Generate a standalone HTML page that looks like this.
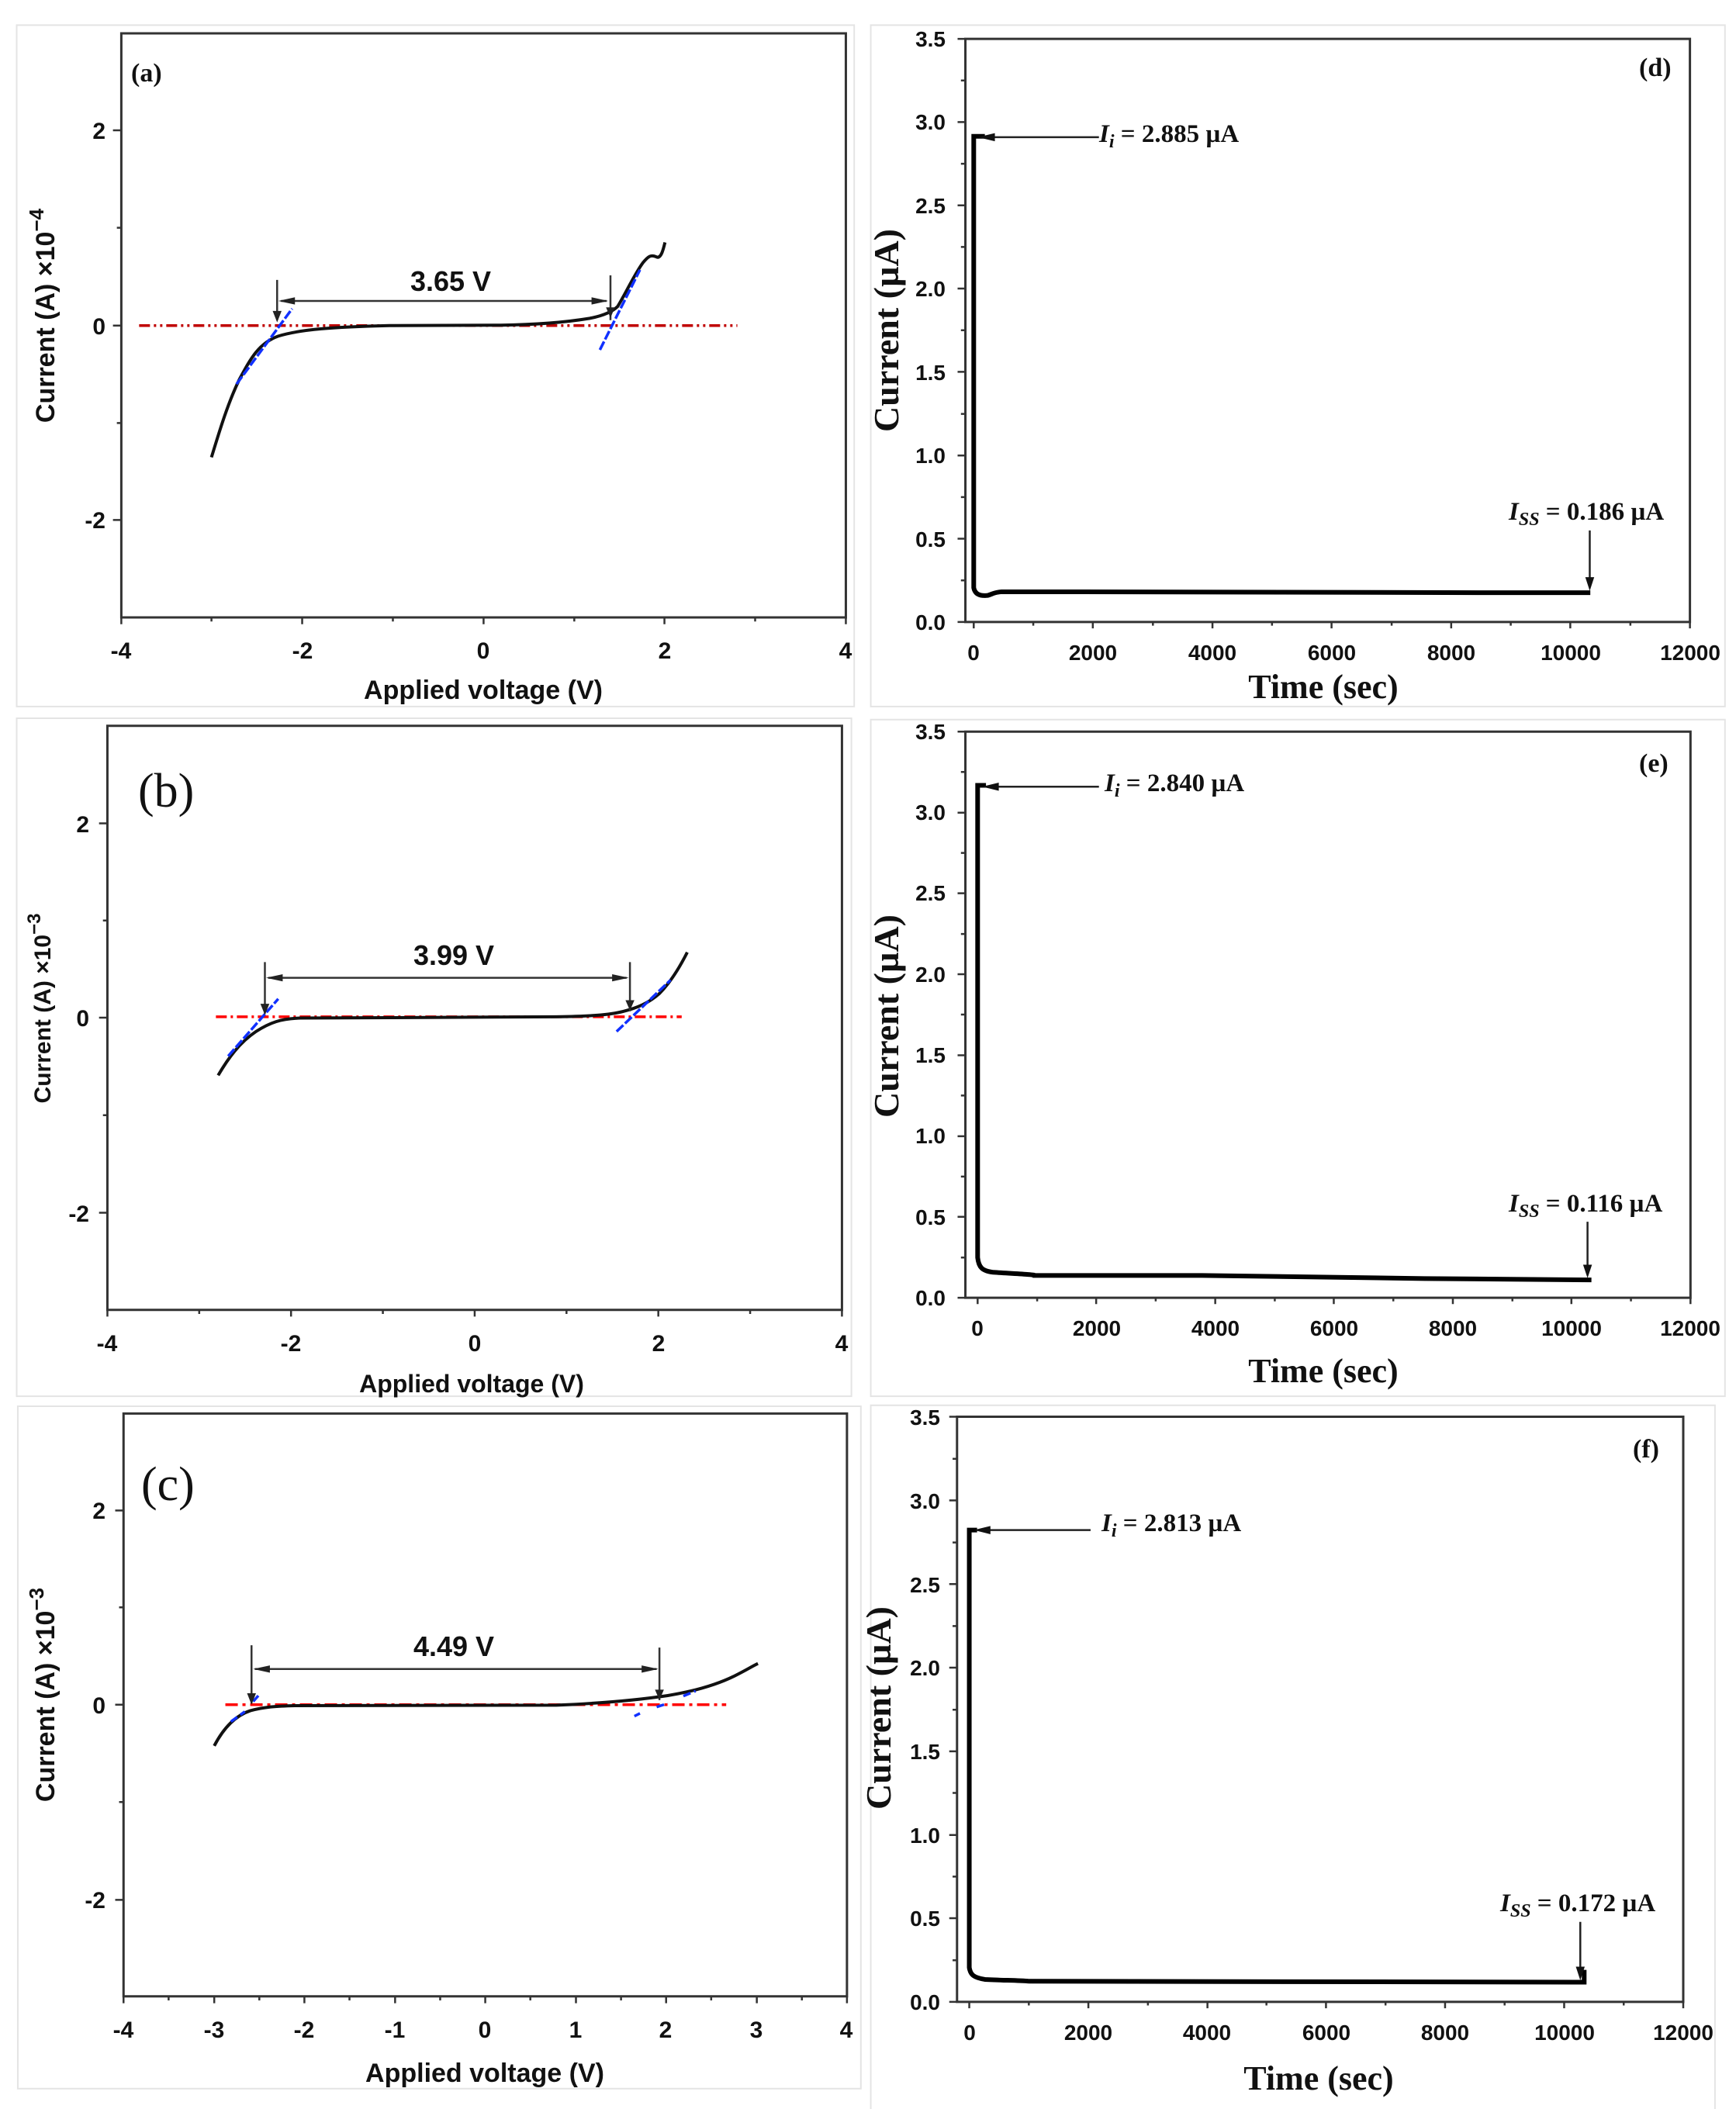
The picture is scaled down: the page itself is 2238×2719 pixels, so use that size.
<!DOCTYPE html>
<html><head><meta charset="utf-8"><style>
html,body{margin:0;padding:0;background:#fff}
svg{display:block}
.t{font-family:"Liberation Sans",Arial,sans-serif;font-weight:bold;fill:#111}
.s{font-family:"Liberation Serif","Times New Roman",serif;font-weight:bold;fill:#111}
.ns{vector-effect:non-scaling-stroke;fill:none}
</style></head><body>
<svg width="2238" height="2719" viewBox="0 0 2238 2719" xmlns="http://www.w3.org/2000/svg">
<rect width="2238" height="2719" fill="#fff"/>

<!-- ===== Panel (a) ===== -->
<g transform="matrix(0.7174,0,0,0.5896,0,0)">
<rect x="30" y="55" width="1505" height="1490" class="ns" stroke="#e4e4e4" stroke-width="2"/>
<rect x="218" y="73" width="1302" height="1277" class="ns" stroke="#333" stroke-width="3"/>
<path class="ns" stroke="#333" stroke-width="2.5" d="M218 285h-15M218 712h-15M218 1137h-15M218 498h-8M218 925h-8
M218 1350v15M543 1350v15M869 1350v15M1194 1350v15M1520 1350v15M380 1350v9M706 1350v9M1032 1350v9M1357 1350v9"/>
<path class="ns" stroke="#c00000" stroke-width="3.5" stroke-dasharray="14 5 3 5 3 5" d="M250 712H1325"/>
<path class="ns" stroke="#111" stroke-width="4" d="M380 1000C395 940 410 880 430 830C450 785 465 750 500 735C540 720 600 715 700 712L900 711C960 710 1010 706 1060 696C1085 690 1100 682 1110 670C1125 640 1140 600 1155 575C1165 560 1170 556 1180 562C1188 566 1192 545 1195 530"/>
<path class="ns" stroke="#1030ff" stroke-width="3.5" stroke-dasharray="12 3" d="M425 840L525 675M1078 765L1150 590"/>
<path class="ns" stroke="#333" stroke-width="2.5" d="M498 612V700M1097 602V700M505 658H1090"/>
<polygon points="500,658 530,650 530,666" fill="#222"/>
<polygon points="1093,658 1063,650 1063,666" fill="#222"/>
<polygon points="498,705 490,680 506,680" fill="#222"/>
<polygon points="1097,695 1089,672 1105,672" fill="#222"/>
</g>
<text class="s" x="169" y="105" font-size="34">(a)</text>
<text class="t" x="581" y="375" font-size="36" text-anchor="middle">3.65 V</text>
<g class="t" font-size="30" text-anchor="middle">
<text x="156" y="849">-4</text><text x="390" y="849">-2</text><text x="623" y="849">0</text><text x="857" y="849">2</text><text x="1090" y="849">4</text></g>
<g class="t" font-size="30" text-anchor="end">
<text x="136" y="179">2</text><text x="136" y="431">0</text><text x="136" y="681">-2</text></g>
<text class="t" x="623" y="901" font-size="34" text-anchor="middle">Applied voltage (V)</text>
<text class="t" font-size="34" text-anchor="middle" transform="translate(70,407) rotate(-90)">Current (A) ×10<tspan dy="-14" font-size="26">−4</tspan></text>

<!-- ===== Panel (d) ===== -->
<g transform="translate(1119,0) scale(0.7174,0.5896)">
<rect x="5" y="55" width="1535" height="1490" class="ns" stroke="#e4e4e4" stroke-width="2"/>
<rect x="175" y="85" width="1302" height="1275" class="ns" stroke="#333" stroke-width="3"/>
<path class="ns" stroke="#333" stroke-width="2.5" d="M175 1360h-14M175 1178h-14M175 996h-14M175 813h-14M175 631h-14M175 449h-14M175 267h-14M175 85h-14
M175 1269h-8M175 1087h-8M175 905h-8M175 722h-8M175 540h-8M175 358h-8M175 176h-8
M190 1360v14M404 1360v14M619 1360v14M833 1360v14M1048 1360v14M1262 1360v14M1477 1360v14
M297 1360v8M512 1360v8M726 1360v8M941 1360v8M1155 1360v8M1370 1360v8"/>
<path class="ns" stroke="#000" stroke-width="6" d="M210 298H190V1285C192 1298 200 1304 215 1302C222 1300 226 1295 240 1294L380 1294L1130 1296L1298 1296"/>
<path class="ns" stroke="#222" stroke-width="2.5" d="M415 300H215M1297 1160V1270"/>
<polygon points="198,300 228,291 228,309" fill="#111"/>
<polygon points="1297,1292 1289,1262 1305,1262" fill="#111"/>
</g>
<text class="s" x="2113" y="98" font-size="34">(d)</text>
<text class="s" x="1417" y="183" font-size="33"><tspan font-style="italic">I</tspan><tspan font-style="italic" font-size="24" dy="7">i</tspan><tspan dy="-7"> = 2.885 µA</tspan></text>
<text class="s" x="1945" y="670" font-size="33"><tspan font-style="italic">I</tspan><tspan font-style="italic" font-size="24" dy="7">SS</tspan><tspan dy="-7"> = 0.186 µA</tspan></text>
<g class="t" font-size="28" text-anchor="middle">
<text x="1255" y="851">0</text><text x="1409" y="851">2000</text><text x="1563" y="851">4000</text><text x="1717" y="851">6000</text><text x="1871" y="851">8000</text><text x="2025" y="851">10000</text><text x="2179" y="851">12000</text></g>
<g class="t" font-size="28" text-anchor="end">
<text x="1219" y="812">0.0</text><text x="1219" y="705">0.5</text><text x="1219" y="597">1.0</text><text x="1219" y="490">1.5</text><text x="1219" y="382">2.0</text><text x="1219" y="275">2.5</text><text x="1219" y="167">3.0</text><text x="1219" y="60">3.5</text></g>
<text class="s" x="1706" y="900" font-size="44" text-anchor="middle">Time (sec)</text>
<text class="s" font-size="46" text-anchor="middle" transform="translate(1158,426) rotate(-90)">Current (µA)</text>

<!-- ===== Panel (b) ===== -->
<g transform="translate(0,900) scale(0.7174,0.577)">
<rect x="30" y="45" width="1500" height="1515" class="ns" stroke="#e4e4e4" stroke-width="2"/>
<rect x="193" y="62" width="1320" height="1305" class="ns" stroke="#333" stroke-width="3"/>
<path class="ns" stroke="#333" stroke-width="2.5" d="M193 280h-15M193 714h-15M193 1150h-15M193 497h-8M193 932h-8
M193 1367v15M523 1367v15M853 1367v15M1183 1367v15M1513 1367v15M358 1367v9M688 1367v9M1018 1367v9M1348 1367v9"/>
<path class="ns" stroke="#ff0000" stroke-width="3.5" stroke-dasharray="14 5 3 5" d="M388 712H1225"/>
<path class="ns" stroke="#111" stroke-width="4" d="M392 843C410 805 430 770 460 745C485 725 505 716 540 715L700 714L1000 712C1060 711 1095 708 1120 700C1145 692 1165 682 1185 660C1205 635 1222 600 1235 568"/>
<path class="ns" stroke="#1030ff" stroke-width="3.5" stroke-dasharray="12 3" d="M410 800L500 672M1108 745L1205 630"/>
<path class="ns" stroke="#333" stroke-width="2.5" d="M476 590V705M1132 590V700M482 625H1126"/>
<polygon points="478,625 508,617 508,633" fill="#222"/>
<polygon points="1130,625 1100,617 1100,633" fill="#222"/>
<polygon points="476,708 468,683 484,683" fill="#222"/>
<polygon points="1132,698 1124,675 1140,675" fill="#222"/>
</g>
<text x="178" y="1040" font-family="Liberation Serif,serif" font-size="62" fill="#111">(b)</text>
<text class="t" x="585" y="1244" font-size="36" text-anchor="middle">3.99 V</text>
<g class="t" font-size="30" text-anchor="middle">
<text x="138" y="1742">-4</text><text x="375" y="1742">-2</text><text x="612" y="1742">0</text><text x="849" y="1742">2</text><text x="1085" y="1742">4</text></g>
<g class="t" font-size="30" text-anchor="end">
<text x="115" y="1073">2</text><text x="115" y="1323">0</text><text x="115" y="1575">-2</text></g>
<text class="t" x="608" y="1795" font-size="32" text-anchor="middle">Applied voltage (V)</text>
<text class="t" font-size="30" text-anchor="middle" transform="translate(65,1300) rotate(-90)">Current (A) ×10<tspan dy="-13" font-size="24">−3</tspan></text>

<!-- ===== Panel (e) ===== -->
<g transform="translate(1119,900) scale(0.7174,0.577)">
<rect x="5" y="48" width="1535" height="1512" class="ns" stroke="#e4e4e4" stroke-width="2"/>
<rect x="175" y="75" width="1303" height="1265" class="ns" stroke="#333" stroke-width="3"/>
<path class="ns" stroke="#333" stroke-width="2.5" d="M175 1340h-14M175 1159h-14M175 979h-14M175 798h-14M175 617h-14M175 436h-14M175 256h-14M175 75h-14
M175 1250h-8M175 1069h-8M175 888h-8M175 707h-8M175 527h-8M175 346h-8M175 165h-8
M197 1340v14M410 1340v14M624 1340v14M837 1340v14M1051 1340v14M1264 1340v14M1478 1340v14
M304 1340v8M517 1340v8M731 1340v8M944 1340v8M1158 1340v8M1371 1340v8"/>
<path class="ns" stroke="#000" stroke-width="6" d="M212 195H197V1250C199 1272 205 1280 225 1283C260 1286 300 1288 300 1290L600 1290L1000 1297L1300 1300"/>
<path class="ns" stroke="#222" stroke-width="2.5" d="M415 198H220M1293 1170V1275"/>
<polygon points="205,198 235,189 235,207" fill="#111"/>
<polygon points="1293,1296 1285,1266 1301,1266" fill="#111"/>
</g>
<text class="s" x="2113" y="995" font-size="34">(e)</text>
<text class="s" x="1424" y="1020" font-size="33"><tspan font-style="italic">I</tspan><tspan font-style="italic" font-size="24" dy="7">i</tspan><tspan dy="-7"> = 2.840 µA</tspan></text>
<text class="s" x="1945" y="1562" font-size="33"><tspan font-style="italic">I</tspan><tspan font-style="italic" font-size="24" dy="7">SS</tspan><tspan dy="-7"> = 0.116 µA</tspan></text>
<g class="t" font-size="28" text-anchor="middle">
<text x="1260" y="1722">0</text><text x="1414" y="1722">2000</text><text x="1567" y="1722">4000</text><text x="1720" y="1722">6000</text><text x="1873" y="1722">8000</text><text x="2026" y="1722">10000</text><text x="2179" y="1722">12000</text></g>
<g class="t" font-size="28" text-anchor="end">
<text x="1219" y="1683">0.0</text><text x="1219" y="1579">0.5</text><text x="1219" y="1474">1.0</text><text x="1219" y="1370">1.5</text><text x="1219" y="1266">2.0</text><text x="1219" y="1161">2.5</text><text x="1219" y="1057">3.0</text><text x="1219" y="953">3.5</text></g>
<text class="s" x="1706" y="1782" font-size="44" text-anchor="middle">Time (sec)</text>
<text class="s" font-size="46" text-anchor="middle" transform="translate(1158,1310) rotate(-90)">Current (µA)</text>

<!-- ===== Panel (c) ===== -->
<g transform="translate(0,1800) scale(0.7174,0.5893)">
<rect x="32" y="22" width="1515" height="1493" class="ns" stroke="#e4e4e4" stroke-width="2"/>
<rect x="222" y="38" width="1300" height="1275" class="ns" stroke="#333" stroke-width="3"/>
<path class="ns" stroke="#333" stroke-width="2.5" d="M222 250h-15M222 675h-15M222 1102h-15M222 462h-8M222 888h-8
M222 1313v15M385 1313v15M547 1313v15M710 1313v15M872 1313v15M1035 1313v15M1197 1313v15M1360 1313v15M1522 1313v15
M303 1313v9M466 1313v9M628 1313v9M791 1313v9M953 1313v9M1116 1313v9M1278 1313v9M1441 1313v9"/>
<path class="ns" stroke="#ff0000" stroke-width="3.5" stroke-dasharray="16 6 4 6" d="M405 675H1305"/>
<path class="ns" stroke="#111" stroke-width="4" d="M385 765C400 730 420 700 450 688C475 680 495 678 530 677L1000 676C1080 672 1150 664 1200 655C1250 645 1290 630 1320 612C1340 600 1350 592 1362 585"/>
<path class="ns" stroke="#1030ff" stroke-width="3.5" stroke-dasharray="10 5" d="M415 712L440 690M455 668L468 650M1140 700L1150 694M1180 680L1200 672M1228 656L1250 645"/>
<path class="ns" stroke="#333" stroke-width="2.5" d="M452 545V672M1185 550V665M458 597H1180"/>
<polygon points="455,597 485,589 485,605" fill="#222"/>
<polygon points="1183,597 1153,589 1153,605" fill="#222"/>
<polygon points="452,675 444,650 460,650" fill="#222"/>
<polygon points="1185,665 1177,642 1193,642" fill="#222"/>
</g>
<text x="182" y="1934" font-family="Liberation Serif,serif" font-size="62" fill="#111">(c)</text>
<text class="t" x="585" y="2135" font-size="36" text-anchor="middle">4.49 V</text>
<g class="t" font-size="30" text-anchor="middle">
<text x="159" y="2627">-4</text><text x="276" y="2627">-3</text><text x="392" y="2627">-2</text><text x="509" y="2627">-1</text><text x="625" y="2627">0</text><text x="742" y="2627">1</text><text x="858" y="2627">2</text><text x="975" y="2627">3</text><text x="1091" y="2627">4</text></g>
<g class="t" font-size="30" text-anchor="end">
<text x="136" y="1958">2</text><text x="136" y="2209">0</text><text x="136" y="2460">-2</text></g>
<text class="t" x="625" y="2684" font-size="34" text-anchor="middle">Applied voltage (V)</text>
<text class="t" font-size="34" text-anchor="middle" transform="translate(70,2185) rotate(-90)">Current (A) ×10<tspan dy="-14" font-size="26">−3</tspan></text>

<!-- ===== Panel (f) ===== -->
<g transform="translate(1119,1800) scale(0.7174,0.5893)">
<rect x="5" y="20" width="1517" height="1600" class="ns" stroke="#e4e4e4" stroke-width="2"/>
<rect x="160" y="45" width="1305" height="1280" class="ns" stroke="#333" stroke-width="3"/>
<path class="ns" stroke="#333" stroke-width="2.5" d="M160 1325h-14M160 1142h-14M160 960h-14M160 777h-14M160 594h-14M160 411h-14M160 228h-14M160 45h-14
M160 1234h-8M160 1051h-8M160 868h-8M160 686h-8M160 503h-8M160 320h-8M160 137h-8
M182 1325v14M396 1325v14M610 1325v14M823 1325v14M1037 1325v14M1251 1325v14M1465 1325v14
M289 1325v8M503 1325v8M716 1325v8M930 1325v8M1144 1325v8M1358 1325v8"/>
<path class="ns" stroke="#000" stroke-width="6" d="M196 293H182V1250C184 1266 190 1272 210 1276C240 1278 270 1278 290 1280L1287 1282V1255"/>
<path class="ns" stroke="#222" stroke-width="2.5" d="M400 293H205M1280 1150V1260"/>
<polygon points="190,293 220,284 220,302" fill="#111"/>
<polygon points="1280,1278 1272,1248 1288,1248" fill="#111"/>
</g>
<text class="s" x="2105" y="1879" font-size="34">(f)</text>
<text class="s" x="1420" y="1974" font-size="33"><tspan font-style="italic">I</tspan><tspan font-style="italic" font-size="24" dy="7">i</tspan><tspan dy="-7"> = 2.813 µA</tspan></text>
<text class="s" x="1934" y="2464" font-size="33"><tspan font-style="italic">I</tspan><tspan font-style="italic" font-size="24" dy="7">SS</tspan><tspan dy="-7"> = 0.172 µA</tspan></text>
<g class="t" font-size="28" text-anchor="middle">
<text x="1250" y="2630">0</text><text x="1403" y="2630">2000</text><text x="1556" y="2630">4000</text><text x="1710" y="2630">6000</text><text x="1863" y="2630">8000</text><text x="2017" y="2630">10000</text><text x="2170" y="2630">12000</text></g>
<g class="t" font-size="28" text-anchor="end">
<text x="1212" y="2591">0.0</text><text x="1212" y="2483">0.5</text><text x="1212" y="2376">1.0</text><text x="1212" y="2268">1.5</text><text x="1212" y="2160">2.0</text><text x="1212" y="2053">2.5</text><text x="1212" y="1945">3.0</text><text x="1212" y="1837">3.5</text></g>
<text class="s" x="1700" y="2694" font-size="44" text-anchor="middle">Time (sec)</text>
<text class="s" font-size="46" text-anchor="middle" transform="translate(1148,2202) rotate(-90)">Current (µA)</text>
</svg>
</body></html>
